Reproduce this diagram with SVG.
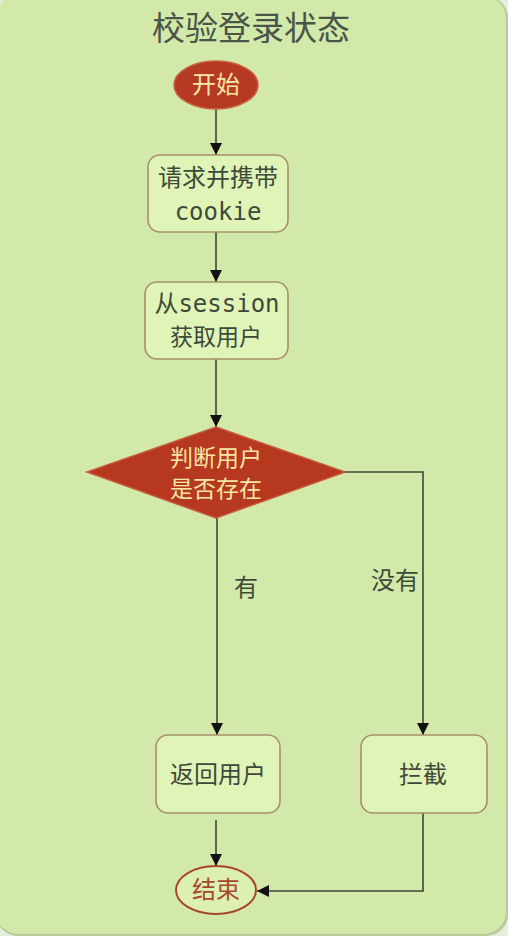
<svg xmlns="http://www.w3.org/2000/svg" width="508" height="936" viewBox="0 0 508 936">
<defs>
<style>
.box{fill:#e0f4b7;stroke:#a8906c;stroke-width:1.6}
.t{font-family:"Noto Sans CJK SC","Noto Sans",sans-serif;font-size:23px;fill:#3d4a3a;text-anchor:middle}
.m{font-family:"DejaVu Sans Mono","Liberation Mono","Noto Sans CJK SC",monospace}
.w{fill:#f6e7a6}
.e{stroke:#3f463a;stroke-width:1.6;fill:none}
</style>
<marker id="ah" viewBox="0 0 12 12" refX="12" refY="6" markerWidth="12" markerHeight="12" markerUnits="userSpaceOnUse" orient="auto">
<path d="M0,0 L12,6 L0,12 Z" fill="#111"/>
</marker>
</defs>
<rect x="0" y="0" width="508" height="936" fill="#e6eedc"/>
<rect x="-4" y="-4" width="512" height="940" rx="22" fill="#b9c99a"/>
<rect x="-4" y="-4" width="510" height="938" rx="22" fill="#d2e9aa"/>
<text id="title" x="251" y="40" class="t" style="font-size:33px;fill:#4a5448">校验登录状态</text>
<g id="connectors">
<line class="e" x1="216" y1="108" x2="216" y2="155" marker-end="url(#ah)"/>
<line class="e" x1="216" y1="232" x2="216" y2="282" marker-end="url(#ah)"/>
<line class="e" x1="216" y1="359" x2="216" y2="427" marker-end="url(#ah)"/>
<line class="e" x1="217" y1="518" x2="217" y2="735" marker-end="url(#ah)"/>
<polyline class="e" points="345,472 423,472 423,735" marker-end="url(#ah)"/>
<line class="e" x1="216" y1="820" x2="216" y2="866" marker-end="url(#ah)"/>
<polyline class="e" points="423,813 423,891 257,891" marker-end="url(#ah)"/>
<text class="t" x="246" y="596" style="font-size:24px">有</text>
<text class="t" x="395" y="589" style="font-size:24px">没有</text>
</g>
<g id="start">
<ellipse cx="216" cy="85" rx="42" ry="24" fill="#b63a23" stroke="#c9603f" stroke-width="1.5"/>
<text class="t w" x="216" y="93" style="font-size:24px">开始</text>
</g>
<g id="request">
<rect class="box" x="148" y="155" width="140" height="77" rx="12"/>
<text class="t" x="218" y="186" style="font-size:24px">请求并携带</text>
<text class="t m" x="218" y="220" style="font-size:24px">cookie</text>
</g>
<g id="session">
<rect class="box" x="145" y="282" width="143" height="77" rx="12"/>
<text class="t" x="217" y="312" style="font-size:24px">从<tspan class="m">session</tspan></text>
<text class="t" x="216" y="345">获取用户</text>
</g>
<g id="decision">
<polygon points="216,427 345,472 216,518 87,472" fill="#b5381f" stroke="#c65a3c" stroke-width="1.5"/>
<text class="t w" x="216" y="466">判断用户</text>
<text class="t w" x="216" y="497">是否存在</text>
</g>
<g id="return">
<rect class="box" x="156" y="735" width="124" height="78" rx="12"/>
<text class="t" x="218" y="783" style="font-size:24px">返回用户</text>
</g>
<g id="block">
<rect class="box" x="361" y="735" width="126" height="78" rx="12"/>
<text class="t" x="423" y="783" style="font-size:24px">拦截</text>
</g>
<g id="end">
<ellipse cx="216" cy="890" rx="40" ry="24" fill="#dcf0b2" stroke="#a4462c" stroke-width="2"/>
<text class="t" x="216" y="898" style="fill:#a8492c;font-size:24px">结束</text>
</g>
</svg>
